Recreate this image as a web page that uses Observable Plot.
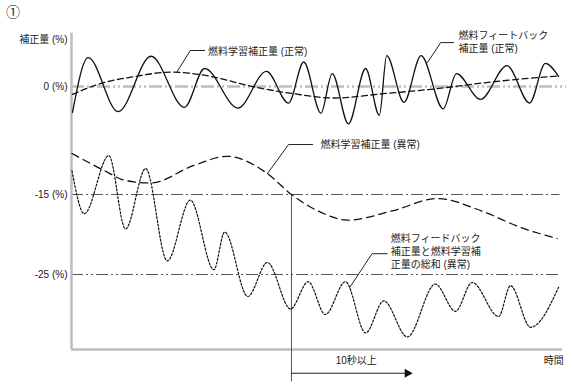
<!DOCTYPE html>
<html>
<head>
<meta charset="utf-8">
<script src="https://cdn.jsdelivr.net/npm/d3@7"></script>
<script src="https://cdn.jsdelivr.net/npm/@observablehq/plot@0.6"></script>
<style>
  body { margin: 0; background: #fff; }
</style>
</head>
<body>
<div id="chart"></div>
<script>
// ---- data (time in arbitrary units 0..100, correction in %) ----
const fbNormalT = [0.2, 3.4, 9.5, 16.2, 23.0, 27.1, 33.9, 39.7, 44.2, 47.3, 50.8, 53.1, 56.4, 59.9, 62.7, 64.2, 67.7, 71.2, 75.7, 78.4, 83.3, 88.7, 93.3, 96.5, 99.2];
const fbNormalV = [-3.6, 4.0, -3.5, 4.2, -2.9, 2.5, -3.0, 2.1, -2.3, 3.4, -3.7, 1.8, -5.2, 2.5, -4.0, 4.3, -2.2, 4.3, -3.1, 1.8, -1.8, 2.9, -2.3, 3.2, 1.4];

const learnNormalT = [0.2, 5.9, 13.0, 20.2, 27.6, 36.8, 45.2, 53.4, 63.5, 73.7, 83.9, 94.1, 99.2];
const learnNormalV = [-1.1, 0.4, 1.4, 2.0, 1.5, 0.0, -1.0, -1.6, -1.0, -0.35, 0.5, 1.2, 1.45];

const learnAbnT = [0.1, 5.9, 11.3, 16.1, 24.8, 31.7, 39.9, 44.8, 50.7, 56.2, 65.6, 74.5, 83.3, 91.4, 98.9];
const learnAbnV = [-9.3, -11.4, -13.1, -13.4, -11.0, -9.7, -12.1, -15.0, -17.2, -18.2, -17.0, -15.5, -17.0, -19.1, -20.5];

const sumAbnT = [0.1, 2.6, 7.6, 11.0, 15.1, 19.5, 24.2, 29.0, 31.2, 35.9, 39.9, 44.6, 48.2, 51.7, 55.8, 59.9, 63.6, 68.4, 74.1, 78.2, 81.6, 87.0, 89.4, 93.5, 99.2];
const sumAbnV = [-11.7, -17.4, -9.6, -19.3, -11.4, -23.3, -15.7, -24.4, -19.7, -27.75, -23.5, -29.3, -25.9, -30.0, -25.9, -32.3, -28.3, -32.8, -26.2, -29.6, -26.0, -30.25, -26.4, -31.6, -26.6];

const refLevels = [0, -15, -25];
const tickLabels = ["0 (%)", "-15 (%)", "-25 (%)"];
const yTitle = "補正量 (%)";
const xTitle = "時間";
const durationLabel = "10秒以上";
const figLabel = "①";
const thresholdTime = 44.8;   // time when abnormal learning crosses -15 %
const arrowEndTime = 69.6;

const labelLearnNormal = "燃料学習補正量 (正常)";
const labelFbNormal = ["燃料フィートバック", "補正量 (正常)"];
const labelLearnAbn = "燃料学習補正量 (異常)";
const labelSumAbn = ["燃料フィードバック", "補正量と燃料学習補", "正量の総和 (異常)"];

// the schematic's vertical axis is not uniform: -15..-25 is drawn a bit taller
const warp = d3.scaleLinear().domain([0, -15, -25]).range([0, -15, -26.11]);

// ---- build tables ----
const zip = (ts, vs) => ts.map((t, i) => ({t, v: warp(vs[i])}));
const fbNormal = zip(fbNormalT, fbNormalV);
const learnNormal = zip(learnNormalT, learnNormalV);
const learnAbn = zip(learnAbnT, learnAbnV);
const sumAbn = zip(sumAbnT, sumAbnV);
const W = v => warp(v);

const yTop = 7.5, yBottom = -34.375, belowAxis1 = -35.75, arrowLevel = -37.34, belowAxis2 = -38.4;

// callout leader lines (t, %)
const pts = a => a.map(([t, v]) => ({t, v: W(v)}));
const leader1 = pts([[21.4, 1.94], [24.2, 5.0], [27.1, 5.0]]);
const leader2 = pts([[72.5, 3.33], [75.2, 6.1], [77.8, 6.1]]);
const leader3 = pts([[39.9, -12.1], [44.2, -8.06], [49.1, -8.06]]);
const leader4 = pts([[56.7, -26.6], [61.2, -22.4], [64.3, -22.4]]);

const ink = "#222";
const font = "'Liberation Sans', Arial, 'Noto Sans CJK JP', sans-serif";

const chart = Plot.plot({
  width: 573,
  height: 385,
  x: {domain: [0, 100], range: [71, 562], axis: null},
  y: {domain: [W(yTop), W(yBottom)], range: [32, 349], axis: null},
  style: {fontFamily: font, fontSize: "10px", background: "#fff", color: ink},
  marks: [
    // reference lines
    Plot.ruleY([W(0)], {x1: 0, x2: 100.8, stroke: "#bdbdbd", strokeWidth: 2.4, strokeDasharray: "13,3,2,3,2,3"}),
    Plot.ruleY([W(-15)], {x1: 0, x2: 99.5, stroke: "#555", strokeWidth: 1, strokeDasharray: "12,3,2,3"}),
    Plot.ruleY([W(-25)], {x1: 0, x2: 99.5, stroke: "#555", strokeWidth: 1, strokeDasharray: "12,3,2,3,2,3"}),
    // axes
    Plot.ruleX([0], {y1: W(yTop) - 0.1, y2: W(yBottom), stroke: "#bdbdbd", strokeWidth: 2.5}),
    Plot.ruleY([W(yBottom)], {x1: 0, x2: 100, stroke: "#bdbdbd", strokeWidth: 2.5}),
    // threshold vertical and duration arrow
    Plot.ruleX([thresholdTime], {y1: W(-15), y2: W(belowAxis2), stroke: "#555", strokeWidth: 1}),
    Plot.ruleY([W(arrowLevel)], {x1: thresholdTime, x2: arrowEndTime - 1.5, stroke: "#222", strokeWidth: 1}),
    Plot.dot([{t: arrowEndTime - 1.2, v: W(arrowLevel)}], {x: "t", y: "v", symbol: "triangle", r: 3.4, rotate: 90, fill: "#111", stroke: "none"}),
    // curves
    Plot.line(learnNormal, {x: "t", y: "v", curve: "monotone-x", stroke: "#111", strokeWidth: 1.3, strokeDasharray: "6,3.5"}),
    Plot.line(fbNormal, {x: "t", y: "v", curve: "monotone-x", stroke: "#111", strokeWidth: 1.3}),
    Plot.line(learnAbn, {x: "t", y: "v", curve: "monotone-x", stroke: "#111", strokeWidth: 1.3, strokeDasharray: "7.5,5"}),
    Plot.line(sumAbn, {x: "t", y: "v", curve: "monotone-x", stroke: "#111", strokeWidth: 1.2, strokeDasharray: "2,1.8"}),
    // leader lines
    Plot.line(leader1, {x: "t", y: "v", stroke: "#222", strokeWidth: 1}),
    Plot.line(leader2, {x: "t", y: "v", stroke: "#222", strokeWidth: 1}),
    Plot.line(leader3, {x: "t", y: "v", stroke: "#222", strokeWidth: 1}),
    Plot.line(leader4, {x: "t", y: "v", stroke: "#222", strokeWidth: 1}),
    // callout texts
    Plot.text([labelLearnNormal], {x: 27.8, y: W(4.8), text: d => d, textAnchor: "start", fill: ink}),
    Plot.text(labelFbNormal, {x: 78.8, y: (d, i) => W([7.08, 5.24][i]), text: d => d, textAnchor: "start", fill: ink}),
    Plot.text([labelLearnAbn], {x: 50.7, y: W(-8.06), text: d => d, textAnchor: "start", fill: ink}),
    Plot.text(labelSumAbn, {x: 65.0, y: (d, i) => W([-20.54, -22.2, -23.8][i]), text: d => d, textAnchor: "start", fill: ink}),
    // axis labels
    Plot.text(refLevels, {x: 0, y: d => W(d), text: (d, i) => tickLabels[i], textAnchor: "end", dx: -4, fill: ink}),
    Plot.text([yTitle], {x: 0, y: W(6.53), text: d => d, textAnchor: "end", dx: -4, fill: ink}),
    Plot.text([xTitle], {x: 98.2, y: W(belowAxis1), text: d => d, fill: ink}),
    Plot.text([durationLabel], {x: 58.0, y: W(belowAxis1), text: d => d, fill: ink}),
    Plot.text([figLabel], {x: -11.9, y: W(10.3), text: d => d, fontSize: 14, fill: ink})
  ]
});
document.getElementById("chart").appendChild(chart);
</script>
</body>
</html>
